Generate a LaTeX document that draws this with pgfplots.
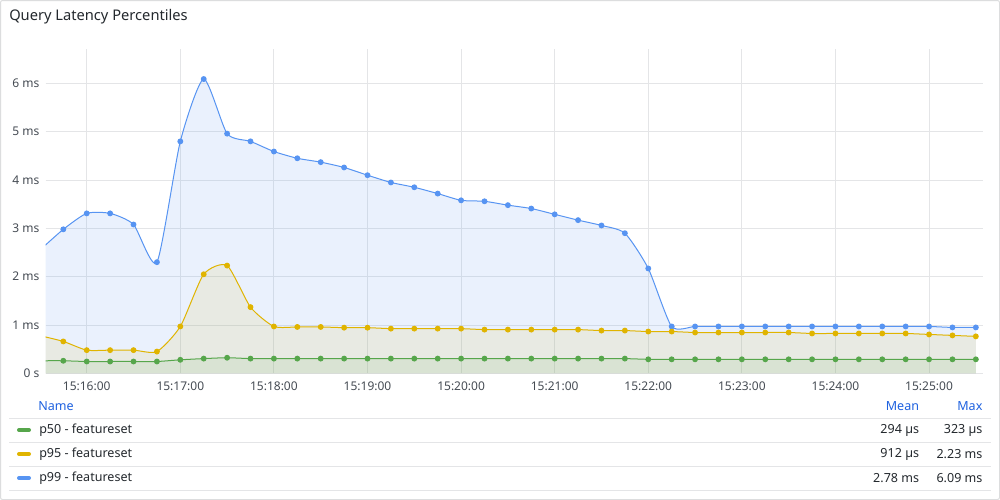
\documentclass[border=0pt]{standalone}
\usepackage{pgfplots}
\usepackage{pgfplotstable}
\pgfplotsset{compat=1.18}
\usepackage{fontspec}
\setmainfont{Noto Sans}
\definecolor{cgreen}{HTML}{56A64B}
\definecolor{cyellow}{HTML}{E0B400}
\definecolor{cblue}{HTML}{5794F2}
\definecolor{gridc}{HTML}{E4E5E7}
\definecolor{txt}{HTML}{24292E}
\definecolor{tickc}{HTML}{464C54}
\definecolor{hdr}{HTML}{1F62E0}
\definecolor{borderc}{HTML}{DCDDDE}

\pgfplotstableread{
x y
-0.5 2.55
-0.25 2.98
0 3.31
0.25 3.31
0.5 3.08
0.75 2.30
1.0 4.80
1.25 6.09
1.5 4.96
1.75 4.80
2.0 4.59
2.25 4.45
2.5 4.37
2.75 4.26
3.0 4.10
3.25 3.95
3.5 3.85
3.75 3.72
4.0 3.58
4.25 3.56
4.5 3.48
4.75 3.41
5.0 3.29
5.25 3.17
5.5 3.06
5.75 2.90
6.0 2.17
6.25 0.97
6.5 0.97
6.75 0.97
7.0 0.97
7.25 0.97
7.5 0.97
7.75 0.97
8.0 0.97
8.25 0.97
8.5 0.97
8.75 0.97
9.0 0.97
9.25 0.95
9.5 0.95
}\pnn

\pgfplotstableread{
x y
-0.5 0.78
-0.25 0.66
0 0.48
0.25 0.48
0.5 0.48
0.75 0.45
1.0 0.97
1.25 2.05
1.5 2.23
1.75 1.37
2.0 0.97
2.25 0.96
2.5 0.96
2.75 0.945
3.0 0.945
3.25 0.925
3.5 0.925
3.75 0.925
4.0 0.925
4.25 0.905
4.5 0.905
4.75 0.905
5.0 0.905
5.25 0.905
5.5 0.885
5.75 0.885
6.0 0.865
6.25 0.865
6.5 0.845
6.75 0.845
7.0 0.845
7.25 0.845
7.5 0.845
7.75 0.825
8.0 0.825
8.25 0.825
8.5 0.825
8.75 0.825
9.0 0.805
9.25 0.785
9.5 0.765
}\pnf

\pgfplotstableread{
x y
-0.5 0.26
-0.25 0.26
0 0.245
0.25 0.245
0.5 0.245
0.75 0.245
1.0 0.28
1.25 0.305
1.5 0.323
1.75 0.305
2.0 0.305
2.25 0.305
2.5 0.305
2.75 0.305
3.0 0.305
3.25 0.305
3.5 0.305
3.75 0.305
4.0 0.305
4.25 0.305
4.5 0.305
4.75 0.305
5.0 0.305
5.25 0.305
5.5 0.305
5.75 0.305
6.0 0.29
6.25 0.29
6.5 0.29
6.75 0.29
7.0 0.29
7.25 0.29
7.5 0.29
7.75 0.29
8.0 0.29
8.25 0.29
8.5 0.29
8.75 0.29
9.0 0.29
9.25 0.29
9.5 0.29
}\pfif

\begin{document}
\begin{tikzpicture}
\path[use as bounding box] (0,0) rectangle (750pt,-375pt);
\fill[white] (0,0) rectangle (750pt,-375pt);
\draw[borderc, rounded corners=1.5pt, line width=0.75pt] (0.375pt,-0.375pt) rectangle (749.625pt,-374.625pt);
\node[anchor=west, font=\fontsize{11}{12}\selectfont, text=txt, inner sep=0pt] at (6.75pt,-12.75pt) {Query Latency Percentiles};

\begin{axis}[
  at={(34.3pt,-280pt)}, anchor=south west,
  scale only axis, width=703.2pt, height=243.2pt,
  xmin=-0.438, xmax=9.58, ymin=0, ymax=6.71,
  axis line style={draw=none},
  grid=major, major grid style={gridc, line width=0.75pt},
  tick style={draw=none},
  xtick={0,1,2,3,4,5,6,7,8,9},
  xticklabels={15:16:00,15:17:00,15:18:00,15:19:00,15:20:00,15:21:00,15:22:00,15:23:00,15:24:00,15:25:00},
  ytick={0,1,2,3,4,5,6},
  yticklabels={0 s,1 ms,2 ms,3 ms,4 ms,5 ms,6 ms},
  ticklabel style={font=\fontsize{9}{10}\selectfont, text=tickc},
  /pgf/number format/assume math mode=true,
  xticklabel style={yshift=-3pt},
  yticklabel style={xshift=-1.3pt},
  clip=true,
]
\addplot[draw=none, fill=cblue, fill opacity=0.12, smooth, tension=0.38] table[x=x,y=y] {\pnn} \closedcycle;
\addplot[draw=none, fill=cyellow, fill opacity=0.10, smooth, tension=0.38] table[x=x,y=y] {\pnf} \closedcycle;
\addplot[draw=none, fill=cgreen, fill opacity=0.10, smooth, tension=0.38] table[x=x,y=y] {\pfif} \closedcycle;
\addplot[cblue, line width=0.75pt, smooth, tension=0.38, mark=*, mark size=1.8pt, mark options={fill=cblue, draw=cblue}] table[x=x,y=y] {\pnn};
\addplot[cyellow, line width=0.75pt, smooth, tension=0.38, mark=*, mark size=1.8pt, mark options={fill=cyellow, draw=cyellow}] table[x=x,y=y] {\pnf};
\addplot[cgreen, line width=0.75pt, smooth, tension=0.38, mark=*, mark size=1.8pt, mark options={fill=cgreen, draw=cgreen}] table[x=x,y=y] {\pfif};
\end{axis}

% legend table
\foreach \yy in {313.7,331.7,349.7,367.7} {
  \draw[gridc, line width=0.75pt] (6.75pt,-\yy pt) -- (743pt,-\yy pt);
}
\begin{scope}[font=\fontsize{9.4}{10}\selectfont]
\node[anchor=west, text=hdr, inner sep=0pt] at (28.5pt,-304.5pt) {Name};
\node[anchor=east, text=hdr, inner sep=0pt] at (689.5pt,-304.5pt) {Mean};
\node[anchor=east, text=hdr, inner sep=0pt] at (737pt,-304.5pt) {Max};

\draw[cgreen, line width=3pt, line cap=round] (14.25pt,-322.5pt) -- (21.75pt,-322.5pt);
\draw[cyellow, line width=3pt, line cap=round] (14.25pt,-340.5pt) -- (21.75pt,-340.5pt);
\draw[cblue, line width=3pt, line cap=round] (14.25pt,-358.5pt) -- (21.75pt,-358.5pt);

\node[anchor=west, text=txt, inner sep=0pt] at (29.25pt,-322.5pt) {p50 - featureset};
\node[anchor=west, text=txt, inner sep=0pt] at (29.25pt,-340.5pt) {p95 - featureset};
\node[anchor=west, text=txt, inner sep=0pt] at (29.25pt,-358.5pt) {p99 - featureset};

\node[anchor=east, text=txt, inner sep=0pt] at (689.5pt,-322.5pt) {294 µs};
\node[anchor=east, text=txt, inner sep=0pt] at (689.5pt,-340.5pt) {912 µs};
\node[anchor=east, text=txt, inner sep=0pt] at (689.5pt,-358.5pt) {2.78 ms};
\node[anchor=east, text=txt, inner sep=0pt] at (737pt,-322.5pt) {323 µs};
\node[anchor=east, text=txt, inner sep=0pt] at (737pt,-340.5pt) {2.23 ms};
\node[anchor=east, text=txt, inner sep=0pt] at (737pt,-358.5pt) {6.09 ms};
\end{scope}
\end{tikzpicture}
\end{document}
